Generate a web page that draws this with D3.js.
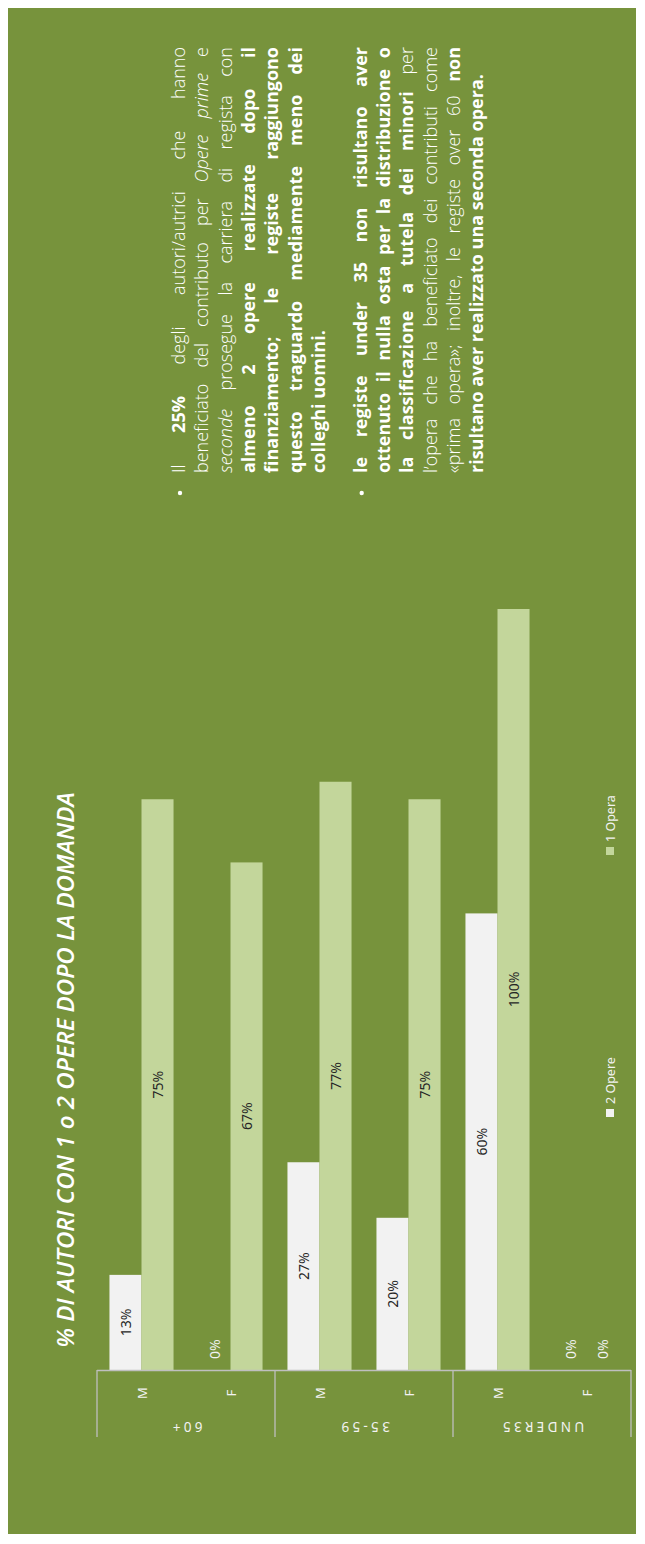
<!DOCTYPE html>
<html><head><meta charset="utf-8">
<script src="https://cdn.jsdelivr.net/npm/d3@7"></script>
<style>body{margin:0;background:#fff}svg{display:block}</style>
</head><body>
<svg id="c" width="645" height="1544"></svg>
<script>
// ---- data ----
const groups = ["60+", "35-59", "UNDER35"];
const genders = ["M", "F"];
const series = ["2 Opere", "1 Opera"];
const dueOpere = [12.5, 0, 27.3, 20, 60, 0];
const unaOpera = [75, 66.7, 77.3, 75, 100, 0];
const titleText = "% DI AUTORI CON 1 o 2 OPERE DOPO LA DOMANDA";
const bullet1 = [
  [["Il ",0],["25%",1],[" degli autori/autrici che hanno",0]],
  [["beneficiato del contributo per ",0],["Opere prime",2],[" e",0]],
  [["seconde",2],[" prosegue la carriera di regista con",0]],
  [["almeno 2 opere realizzate dopo il",1]],
  [["finanziamento; le registe raggiungono",1]],
  [["questo traguardo mediamente meno dei",1]],
  [["colleghi uomini.",1]]
];
const bullet2 = [
  [["le registe under 35 non risultano aver",1]],
  [["ottenuto il nulla osta per la distribuzione o",1]],
  [["la classificazione a tutela dei minori",1],[" per",0]],
  [["l’opera che ha beneficiato dei contributi come",0]],
  [["«prima opera»; inoltre, le registe over 60 ",0],["non",1]],
  [["risultano aver realizzato una seconda opera.",1]]
];

const categories = [];
groups.forEach(g => genders.forEach(s => categories.push(g + "|" + s)));
const rows = categories.map((c, i) => ({cat: c, g: c.split("|")[0], s: c.split("|")[1], vals: [dueOpere[i], unaOpera[i]]}));

const colors = {"2 Opere": "#F2F2F2", "1 Opera": "#C3D69B"};
const svg = d3.select("#c");

svg.append("rect").attr("x", 8).attr("y", 8).attr("width", 628).attr("height", 1526)
  .attr("fill", "#77933C");

const base = 1370, x0 = 97, x1 = 631;
const x = d3.scaleBand().domain(categories).range([x0, x1]).paddingInner(0.28).paddingOuter(0.14);
const xs = d3.scaleBand().domain(series).range([0, x.bandwidth()]);
const y = d3.scaleLinear().domain([0, 100]).range([base, 609]);

// bars
const cg = svg.selectAll("g.cat").data(rows).join("g").attr("class", "cat")
  .attr("transform", d => `translate(${x(d.cat)},0)`);
cg.selectAll("rect").data(d => d.vals.map((v, i) => ({k: series[i], v})))
  .join("rect")
  .attr("x", d => xs(d.k)).attr("width", xs.bandwidth())
  .attr("y", d => y(d.v)).attr("height", d => base - y(d.v))
  .attr("fill", d => colors[d.k]);
cg.selectAll("text").data(d => d.vals.map((v, i) => ({k: series[i], v})))
  .join("text")
  .attr("transform", d => {
    const cx = xs(d.k) + xs.bandwidth() / 2;
    const cy = d.v > 0 ? (y(d.v) + base) / 2 : base - 11;
    return `translate(${cx},${cy}) rotate(-90)`;
  })
  .attr("text-anchor", d => d.v > 0 ? "middle" : "start")
  .attr("dominant-baseline", "central")
  .attr("font-family", "'Noto Sans', sans-serif").attr("font-size", 14)
  .attr("fill", d => d.v > 0 ? "#262626" : "#F2F2F2")
  .text(d => Math.round(d.v) + "%");

// category axis
const axisCol = "#BFBFBF";
svg.append("line").attr("x1", x0).attr("x2", x1).attr("y1", base + 0.5).attr("y2", base + 0.5)
  .attr("stroke", axisCol).attr("stroke-width", 1.3);
const seps = groups.map((g, i) => x0 + i * x.step() * 2).concat([x1]);
svg.selectAll("line.sep").data(seps).join("line").attr("class", "sep")
  .attr("x1", d => d).attr("x2", d => d).attr("y1", base).attr("y2", 1437)
  .attr("stroke", axisCol).attr("stroke-width", 1.3);
svg.selectAll("text.gen").data(rows).join("text").attr("class", "gen")
  .attr("transform", d => `translate(${x(d.cat) + x.bandwidth() / 2},1393) rotate(-90)`)
  .attr("text-anchor", "middle").attr("dominant-baseline", "central")
  .attr("font-family", "'Noto Sans', sans-serif").attr("font-size", 13)
  .attr("fill", "#F2F2F2").text(d => d.s);
svg.selectAll("text.grp").data(groups).join("text").attr("class", "grp")
  .attr("transform", (d, i) => `translate(${(seps[i] + seps[i + 1]) / 2},1427) rotate(180)`)
  .attr("text-anchor", "middle").attr("dominant-baseline", "central")
  .attr("font-family", "'Noto Sans', sans-serif").attr("font-size", 13.5)
  .attr("letter-spacing", 3.3)
  .attr("fill", "#F2F2F2").text(d => d);

// title
svg.append("text").attr("transform", "translate(64,1070) rotate(-90)")
  .attr("text-anchor", "middle").attr("dominant-baseline", "central")
  .attr("font-family", "'Open Sans', sans-serif").attr("font-style", "italic")
  .attr("font-weight", 600).attr("font-size", 24)
  .attr("fill", "#FFFFFF").text(titleText);

// legend
const legY = {"2 Opere": 1113, "1 Opera": 851};
const lg = svg.selectAll("g.leg").data(series).join("g").attr("class", "leg")
  .attr("transform", d => `translate(610,${legY[d]}) rotate(-90)`);
lg.append("rect").attr("x", -4).attr("y", -4).attr("width", 8).attr("height", 8).attr("fill", d => colors[d]);
lg.append("text").attr("x", 9).attr("y", 0).attr("dominant-baseline", "central")
  .attr("font-family", "'Noto Sans', sans-serif").attr("font-size", 12.5)
  .attr("fill", "#F2F2F2").text(d => d);

// bullets (justified)
const lineW = 426, startY = 473, lh = 23.3, fs = 18;
const fontFam = "'Open Sans', sans-serif";
function styleText(sel, st) {
  sel.attr("font-family", fontFam).attr("font-size", fs).attr("fill", "#FFFFFF")
    .attr("font-weight", st === 1 ? 700 : 300)
    .attr("font-style", st === 2 ? "italic" : "normal");
}
function drawPara(lines, bx) {
  svg.append("circle").attr("cx", bx - 5).attr("cy", startY + 20).attr("r", 2.2).attr("fill", "#fff");
  lines.forEach((segs, li) => {
    const g = svg.append("g").attr("transform", `translate(${bx + li * lh},${startY}) rotate(-90)`);
    const toks = [];
    let cur = null;
    segs.forEach(([t, st]) => {
      t.split(/(\s+)/).forEach(p => {
        if (!p.length) return;
        if (/^\s+$/.test(p)) { cur = null; return; }
        if (cur) { cur.parts.push([p, st]); }
        else { cur = {parts: [[p, st]]}; toks.push(cur); }
      });
    });
    const isLast = li === lines.length - 1;
    toks.forEach(tk => {
      const t = g.append("text").attr("y", 0);
      tk.parts.forEach(([p, st]) => styleText(t.append("tspan").text(p), st));
      tk.el = t;
      tk.w = t.node().getComputedTextLength();
    });
    const sp = (() => { const t = g.append("text"); styleText(t, 0); t.text("a a"); const w1 = t.node().getComputedTextLength(); t.text("aa"); const w2 = t.node().getComputedTextLength(); t.remove(); return w1 - w2; })();
    const total = d3.sum(toks, d => d.w);
    const gap = (!isLast && toks.length > 1) ? Math.max(sp * 0.6, (lineW - total) / (toks.length - 1)) : sp;
    let pos = 0;
    toks.forEach(tk => { tk.el.attr("x", pos); pos += tk.w + gap; });
  });
}
drawPara(bullet1, 185);
drawPara(bullet2, 366.7);
</script>
</body></html>
